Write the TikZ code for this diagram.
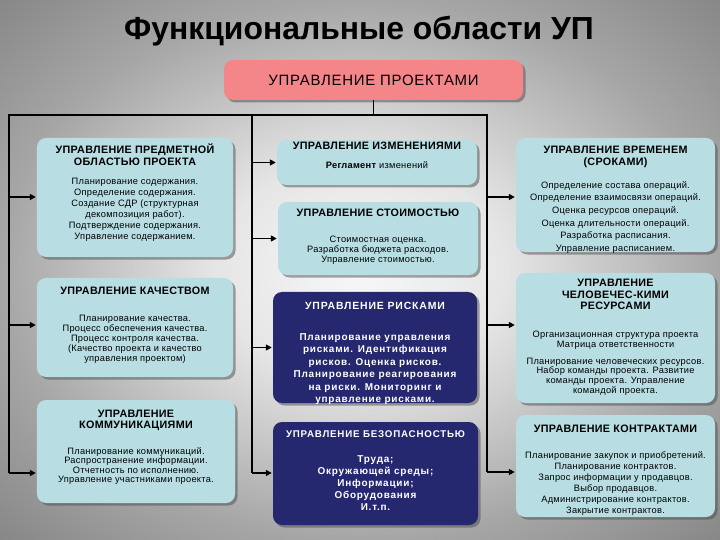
\documentclass[tikz,border=0pt]{standalone}
\usepackage{fontspec}
\setmainfont{Liberation Sans}
\usetikzlibrary{arrows.meta,shadows}

\definecolor{areacyan}{HTML}{B8DEE3}
\definecolor{areanavy}{HTML}{25276F}
\definecolor{headpink}{HTML}{F4868A}

% heading of an area box: [size]{gap after}{text}
\newcommand{\ahead}[3][10.8]{{\bfseries\fontsize{#1}{11.5}\selectfont\rule{0pt}{10bp}#3\par}\vspace{#2}}
% text of an area box, top aligned: {width}{height}{top pad}{text}
\newcommand{\areabox}[4]{\parbox[c][#2][t]{#1}{\centering\vspace*{#3}#4}}

\pgfdeclareradialshading{bggrad}{\pgfpoint{0bp}{0bp}}{color(0bp)=(black!3); color(10bp)=(black!10); color(25bp)=(black!35); color(38bp)=(black!50); color(50bp)=(black!55)}

\begin{document}
\begin{tikzpicture}[
	x=1bp,y=-1bp,
	area/.style={rounded corners=9bp,inner xsep=3bp,inner ysep=0pt,
		drop shadow={shadow xshift=2.5bp,shadow yshift=-2.5bp,fill=black!70,opacity=.5}},
	lead/.style={font=\fontsize{9.3}{#1}\selectfont\addfontfeature{LetterSpace=3}},
	lbox/.style={area,fill=areacyan,lead=10},
	dbox/.style={area,fill=areanavy,text=white,font=\bfseries\fontsize{10}{#1}\selectfont\addfontfeature{LetterSpace=8}},
	link/.style={line width=1.8bp},
	arr/.style={link,-{Triangle[length=6bp,width=6bp]},shorten >=1bp}
	]
	\shade[shading=bggrad] (0,0) rectangle (720,540);
	\useasboundingbox (0,0) rectangle (720,540);

	\node[font=\fontsize{32}{36}\selectfont\bfseries] (title) at (359,31) {Функциональные области УП};
	\node[area,fill=headpink,minimum width=299bp,minimum height=40bp,font=\fontsize{15}{16}\selectfont\addfontfeature{LetterSpace=5}] (pm) at (373.5,80) {УПРАВЛЕНИЕ ПРОЕКТАМИ};

	% left column
	\node[lbox,lead=11] (L1) at (135,197.5) {\areabox{190bp}{119bp}{6bp}{\ahead{8bp}{УПРАВЛЕНИЕ ПРЕДМЕТНОЙ\\ОБЛАСТЬЮ ПРОЕКТА}
		Планирование содержания.\\ Определение содержания.\\ Создание СДР (структурная\\ декомпозиция работ).\\ Подтверждение содержания.\\ Управление содержанием.}};
	\node[lbox] (L2) at (135,327.5) {\areabox{190bp}{99bp}{6bp}{\ahead{18bp}{УПРАВЛЕНИЕ КАЧЕСТВОМ}
		Планирование качества.\\ Процесс обеспечения качества.\\ Процесс контроля качества.\\ (Качество проекта и качество\\ управления проектом)}};
	\node[lbox,lead=9.5] (L3) at (136,451.5) {\areabox{192bp}{103bp}{7bp}{\ahead{16.5bp}{УПРАВЛЕНИЕ\\ КОММУНИКАЦИЯМИ}
		Планирование коммуникаций.\\ Распространение информации.\\ Отчетность по исполнению.\\ Управление участниками проекта.}};

	% middle column
	\node[lbox,lead=9.5] (M1) at (377,162.5) {\areabox{194bp}{45bp}{0bp}{\ahead{9.5bp}{УПРАВЛЕНИЕ ИЗМЕНЕНИЯМИ}
		\textbf{Регламент} изменений}};
	\node[lbox] (M2) at (378,238.5) {\areabox{194bp}{73bp}{5bp}{\ahead{16bp}{УПРАВЛЕНИЕ СТОИМОСТЬЮ}
		Стоимостная оценка.\\ Разработка бюджета расходов.\\ Управление стоимостью.}};
	\node[dbox=12.6] (M3) at (375,347.5) {\areabox{198bp}{111bp}{7bp}{\ahead[10.5]{18.5bp}{УПРАВЛЕНИЕ РИСКАМИ}
		Планирование управления\\ рисками. Идентификация\\ рисков. Оценка рисков.\\ Планирование реагирования\\ на риски. Мониторинг и\\ управление рисками.}};
	\node[dbox=12] (M4) at (375.5,473.5) {\areabox{199bp}{103bp}{5bp}{\ahead[9.8]{14bp}{УПРАВЛЕНИЕ БЕЗОПАСНОСТЬЮ}
		Труда;\\ Окружающей среды;\\ Информации;\\ Оборудования\\ И.т.п.}};

	% right column
	\node[lbox,lead=12.7] (R1) at (615.5,195) {\areabox{193bp}{114bp}{6bp}{\ahead{10bp}{УПРАВЛЕНИЕ ВРЕМЕНЕМ\\ (СРОКАМИ)}
		Определение состава операций.\\ Определение взаимосвязи операций.\\ Оценка ресурсов операций.\\ Оценка длительности операций.\\ Разработка расписания.\\ Управление расписанием.}};
	\node[lbox,lead=9.8] (R2) at (615.5,338) {\areabox{193bp}{130bp}{4bp}{\ahead{18bp}{УПРАВЛЕНИЕ\\ ЧЕЛОВЕЧЕС-КИМИ\\ РЕСУРСАМИ}
		Организационная структура проекта\\ Матрица ответственности\par\vspace{7bp}
		Планирование человеческих ресурсов.\\ Набор команды проекта. Развитие\\ команды проекта. Управление\\ командой проекта.}};
	\node[lbox,lead=11.2] (R3) at (615.5,466) {\areabox{193bp}{102bp}{7bp}{\ahead{15bp}{УПРАВЛЕНИЕ КОНТРАКТАМИ}
		Планирование закупок и приобретений.\\ Планирование контрактов.\\ Запрос информации у продавцов.\\ Выбор продавцов.\\ Администрирование контрактов.\\ Закрытие контрактов.}};

	% connectors
	\coordinate (hubL) at (9,115);
	\coordinate (hubM) at (252,115);
	\coordinate (hubR) at (487,115);
	\foreach \b/\x/\y in {L1/9/197,L2/9/325,L3/9/473,M1/252/162.5,M2/252/238.5,M3/252/347.5,M4/252/473,R1/487/197,R2/487/325,R3/487/472}{
		\coordinate (t\b) at (\x,\y);
		\draw[arr] (t\b) -- (t\b -| \b.west);
	}
	\draw[link] (pm.south) -- (pm.south |- hubL);
	\draw[link] (tL3) -- (hubL) -- (hubR) -- (tR3);
	\draw[link] (hubM) -- (tM4);
\end{tikzpicture}
\end{document}
